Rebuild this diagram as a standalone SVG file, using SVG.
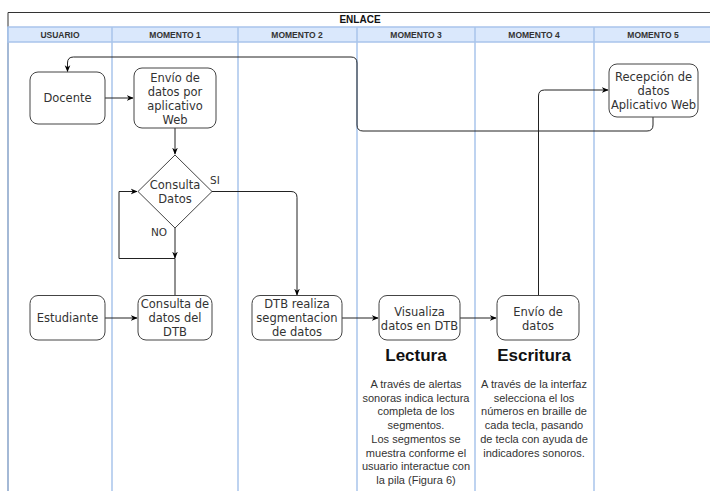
<svg xmlns="http://www.w3.org/2000/svg" width="710" height="491" viewBox="0 0 710 491">
<defs>
<marker id="arr" viewBox="0 0 10 10" refX="9" refY="5" markerWidth="7" markerHeight="7" orient="auto" markerUnits="userSpaceOnUse">
<path d="M0,1 L10,5 L0,9 L3,5 Z" fill="#000"/>
</marker>
<style>
.lane{stroke:#a9c4eb;stroke-width:1.5;fill:none}
.hdr{fill:#dae8fc;stroke:#a9c4eb;stroke-width:1.5}
.ht{font-family:"Liberation Sans",Arial,sans-serif;font-size:8.5px;font-weight:bold;fill:#333;text-anchor:middle}
.node{fill:#fff;stroke:#444;stroke-width:1}
.nt{font-family:"DejaVu Sans","Noto Sans",sans-serif;font-size:11.5px;fill:#333;text-anchor:middle}
.lbl{font-family:"DejaVu Sans","Noto Sans",sans-serif;font-size:10.5px;fill:#333;text-anchor:middle}
.edge{fill:none;stroke:#222;stroke-width:1}
.big{font-family:"Liberation Sans",Arial,sans-serif;font-size:17px;font-weight:bold;fill:#111;text-anchor:middle}
.par{font-family:"Liberation Sans",Arial,sans-serif;font-size:11px;fill:#333;text-anchor:middle}
</style>
</defs>
<rect width="710" height="491" fill="#fff"/>
<g id="pool">
<path d="M8,491 V12.5 H710" fill="none" stroke="#333" stroke-width="1"/>
<text x="360" y="23" font-family="Liberation Sans,Arial,sans-serif" font-size="10px" font-weight="bold" fill="#111" text-anchor="middle">ENLACE</text>
<rect class="hdr" x="8" y="27" width="710" height="15"/>
<line class="lane" x1="8" y1="27" x2="8" y2="491"/>
<line class="lane" x1="112" y1="27" x2="112" y2="491"/>
<line class="lane" x1="238" y1="27" x2="238" y2="491"/>
<line class="lane" x1="357" y1="27" x2="357" y2="491"/>
<line class="lane" x1="475" y1="27" x2="475" y2="491"/>
<line class="lane" x1="594" y1="27" x2="594" y2="491" stroke-width="2"/>
<text class="ht" x="60" y="38">USUARIO</text>
<text class="ht" x="175" y="38">MOMENTO 1</text>
<text class="ht" x="297" y="38">MOMENTO 2</text>
<text class="ht" x="416" y="38">MOMENTO 3</text>
<text class="ht" x="534" y="38">MOMENTO 4</text>
<text class="ht" x="653" y="38">MOMENTO 5</text>
</g>
<g id="connectors">
<path class="edge" d="M105,98 H133" marker-end="url(#arr)"/>
<path class="edge" d="M175,128 V154" marker-end="url(#arr)"/>
<path class="edge" d="M212,191.5 H291 Q297,191.5 297,197.5 V295" marker-end="url(#arr)"/>
<path class="edge" d="M175,228 V258" marker-end="url(#arr)"/>
<path class="edge" d="M175,295 V258.5 H119 V191.5 H137" marker-end="url(#arr)"/>
<path class="edge" d="M105,318 H137" marker-end="url(#arr)"/>
<path class="edge" d="M342,318 H378" marker-end="url(#arr)"/>
<path class="edge" d="M460,318 H496" marker-end="url(#arr)"/>
<path class="edge" d="M538.5,295 V96 Q538.5,90 544.5,90 H608" marker-end="url(#arr)"/>
<path class="edge" d="M653,117 V125 Q653,131 647,131 H363 Q357,131 357,125 V63 Q357,57 351,57 H73.5 Q67.5,57 67.5,63 V71.5" marker-end="url(#arr)"/>
<text class="lbl" x="215" y="184">SI</text>
<text class="lbl" x="159" y="236">NO</text>
</g>
<g id="docente">
<rect class="node" x="30" y="72" width="75" height="52" rx="8"/>
<text class="nt" x="67.5" y="102">Docente</text>
</g>
<g id="envio-web">
<rect class="node" x="134" y="68" width="82" height="60" rx="8"/>
<text class="nt" x="175" y="82">Envío de</text>
<text class="nt" x="175" y="96">datos por</text>
<text class="nt" x="175" y="110">aplicativo</text>
<text class="nt" x="175" y="124">Web</text>
</g>
<g id="consulta-datos">
<path class="node" d="M175,155 L212,191.5 L175,228 L138,191.5 Z"/>
<text class="nt" x="175" y="189">Consulta</text>
<text class="nt" x="175" y="203">Datos</text>
</g>
<g id="estudiante">
<rect class="node" x="30" y="295.5" width="75" height="44.5" rx="8"/>
<text class="nt" x="67.5" y="322">Estudiante</text>
</g>
<g id="consulta-dtb">
<rect class="node" x="138" y="295.5" width="74" height="44.5" rx="8"/>
<text class="nt" x="175" y="308">Consulta de</text>
<text class="nt" x="175" y="322">datos del</text>
<text class="nt" x="175" y="336">DTB</text>
</g>
<g id="dtb-segmentacion">
<rect class="node" x="252" y="295.5" width="90" height="44.5" rx="8"/>
<text class="nt" x="297" y="308">DTB realiza</text>
<text class="nt" x="297" y="322">segmentacion</text>
<text class="nt" x="297" y="336">de datos</text>
</g>
<g id="visualiza">
<rect class="node" x="379" y="295.5" width="81" height="44.5" rx="8"/>
<text class="nt" x="419.5" y="316">Visualiza</text>
<text class="nt" x="419.5" y="330">datos en DTB</text>
</g>
<g id="envio-datos">
<rect class="node" x="497" y="295.5" width="82" height="44.5" rx="8"/>
<text class="nt" x="538" y="316">Envío de</text>
<text class="nt" x="538" y="330">datos</text>
</g>
<g id="recepcion">
<rect class="node" x="609" y="64" width="89" height="53" rx="8"/>
<text class="nt" x="653.5" y="81">Recepción de</text>
<text class="nt" x="653.5" y="95">datos</text>
<text class="nt" x="653.5" y="109">Aplicativo Web</text>
</g>
<g id="lectura">
<text class="big" x="416" y="361">Lectura</text>
<text class="par" x="416" y="388">A través de alertas</text>
<text class="par" x="416" y="402">sonoras indica lectura</text>
<text class="par" x="416" y="415">completa de los</text>
<text class="par" x="416" y="429">segmentos.</text>
<text class="par" x="416" y="443">Los segmentos se</text>
<text class="par" x="416" y="457">muestra conforme el</text>
<text class="par" x="416" y="470">usuario interactue con</text>
<text class="par" x="416" y="484">la pila (Figura 6)</text>
</g>
<g id="escritura">
<text class="big" x="534" y="361">Escritura</text>
<text class="par" x="534" y="388">A través de la interfaz</text>
<text class="par" x="534" y="402">selecciona el los</text>
<text class="par" x="534" y="415">números en braille de</text>
<text class="par" x="534" y="429">cada tecla, pasando</text>
<text class="par" x="534" y="443">de tecla con ayuda de</text>
<text class="par" x="534" y="457">indicadores sonoros.</text>
</g>
</svg>
